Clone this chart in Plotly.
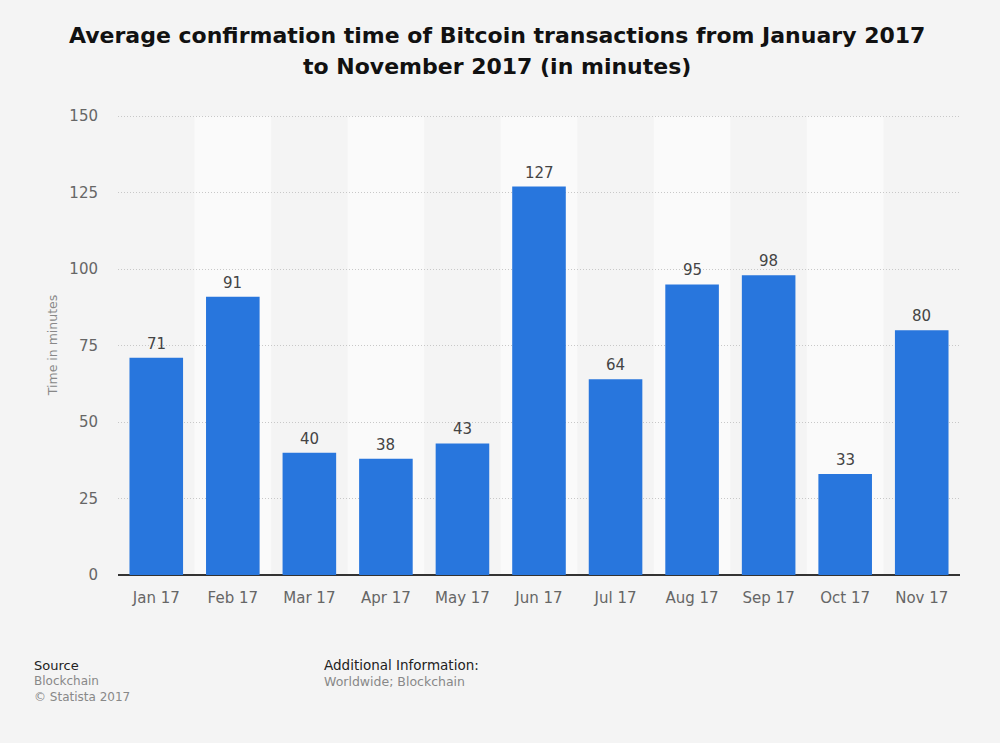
import plotly.graph_objects as go

categories = ["Jan 17", "Feb 17", "Mar 17", "Apr 17", "May 17", "Jun 17",
              "Jul 17", "Aug 17", "Sep 17", "Oct 17", "Nov 17"]
values = [71, 91, 40, 38, 43, 127, 64, 95, 98, 33, 80]
y_ticks = [0, 25, 50, 75, 100, 125, 150]
title_lines = ["Average confirmation time of Bitcoin transactions from January 2017",
               "to November 2017 (in minutes)"]

FONT = "DejaVu Sans"
BG = "#f4f4f4"
W, H = 1000, 743
L, R, T, B = 118, 40, 115, 168


def px_x(x):
    return (x - L) / (W - L - R)


def px_y(y):
    return 1 - (y - T) / (H - T - B)


fig = go.Figure()
fig.add_trace(go.Bar(
    x=list(range(len(categories))), y=values,
    marker=dict(color="#2876dd", line=dict(width=0)),
    width=0.7,
    cliponaxis=False,
))

for i, v in enumerate(values):
    fig.add_annotation(x=i, y=v, text=str(v), showarrow=False, yanchor="bottom",
                       yshift=3, font=dict(family=FONT, size=15, color="#444"))

shapes = []
for i in range(len(categories)):
    if i % 2 == 1:
        shapes.append(dict(type="rect", xref="x", yref="y", x0=i - 0.5, x1=i + 0.5,
                           y0=0, y1=150, fillcolor="#fafafa", line=dict(width=0),
                           layer="below"))

fig.update_layout(
    width=W, height=H,
    paper_bgcolor=BG, plot_bgcolor=BG,
    margin=dict(l=L, r=R, t=T, b=B),
    showlegend=False,
    shapes=shapes,
    xaxis=dict(tickmode="array", tickvals=list(range(len(categories))), ticktext=categories,
               range=[-0.5, len(categories) - 0.5], showgrid=False, zeroline=False,
               showline=False, ticks="", ticklabelstandoff=12,
               tickfont=dict(family=FONT, size=15, color="#666")),
    yaxis=dict(range=[0, 150.4], tickvals=y_ticks, showgrid=True, gridcolor="#c8c8c8",
               griddash="1px,2px", gridwidth=1, zeroline=True, zerolinecolor="#333",
               zerolinewidth=1.5, ticks="", ticklabelstandoff=19,
               tickfont=dict(family=FONT, size=15, color="#666"),
               title=dict(text="Time in minutes", standoff=8,
                          font=dict(family=FONT, size=12.5, color="#888"))),
)

for line, yc in zip(title_lines, [35, 67]):
    fig.add_annotation(text="<b>%s</b>" % line, xref="paper", yref="paper",
                       x=px_x(497), y=px_y(yc), xanchor="center", yanchor="middle",
                       showarrow=False, font=dict(family=FONT, size=22, color="#111"))

footer = [
    dict(text="Source", x=32, y=665, color="#222", size=13),
    dict(text="Blockchain", x=32, y=681, color="#888", size=12),
    dict(text="© Statista 2017", x=32, y=697, color="#888", size=12),
    dict(text="Additional Information:", x=322, y=665, color="#222", size=13.5),
    dict(text="Worldwide; Blockchain", x=322, y=681, color="#888", size=12.5),
]
for a in footer:
    fig.add_annotation(text=a["text"], xref="paper", yref="paper",
                       x=px_x(a["x"]), y=px_y(a["y"]),
                       xanchor="left", yanchor="middle", showarrow=False,
                       font=dict(family=FONT, size=a["size"], color=a["color"]))

fig.write_html("out.html", config={"displayModeBar": False},
               post_script="document.body.style.margin='0';document.body.style.background='%s';" % BG)
